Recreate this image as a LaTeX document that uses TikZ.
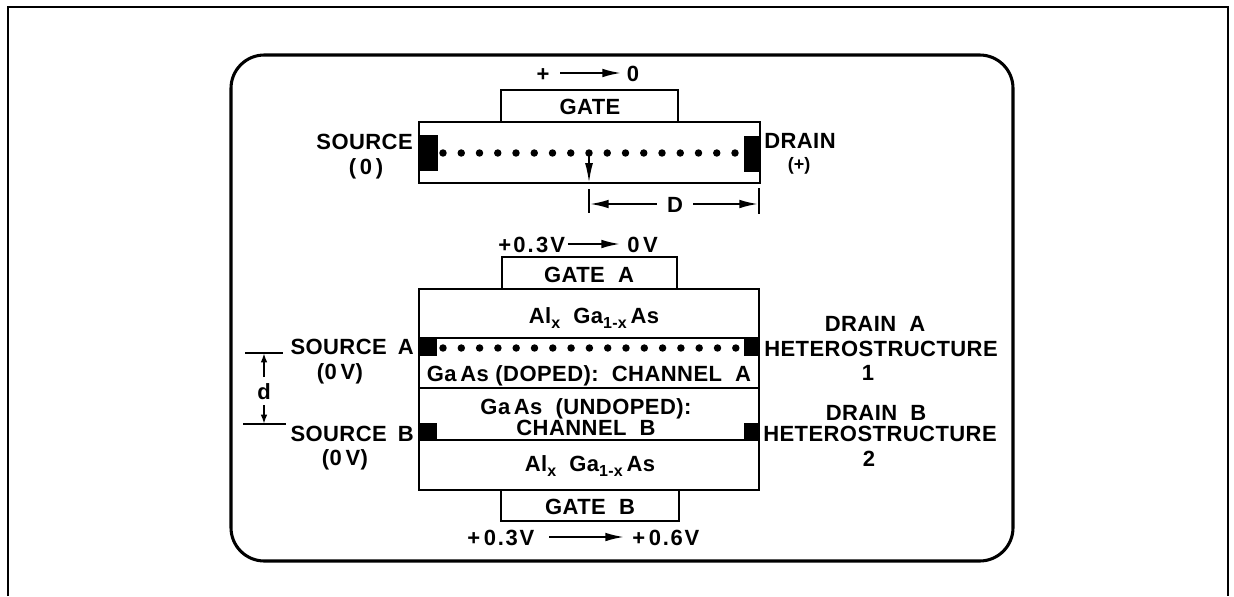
\documentclass[tikz,border=0pt]{standalone}
\usepackage{fontspec}
\setmainfont{Liberation Sans}[BoldFont={Liberation Sans Bold}]
\usetikzlibrary{arrows.meta}
\newcommand{\subtxt}[1]{\raisebox{-4.2pt}{\fontsize{12}{12}\selectfont #1}}
\newcommand{\ls}[2]{{\addfontfeature{LetterSpace=#1}#2}}
\tikzset{
  x=0.75pt,y=-0.75pt,
  frameline/.style={draw=black,line width=1.4pt},
  roundline/.style={draw=black,line width=2.3pt,rounded corners=25pt},
  rectbox/.style={draw=black,line width=1.8pt,fill=white,inner sep=0pt,outer sep=0pt},
  contact/.style={fill=black,draw=none,inner sep=0pt,outer sep=0pt},
  dotmark/.style={circle,fill=black,draw=none,minimum size=5.6pt,inner sep=0pt},
  lab/.style={font=\fontsize{16.5}{18}\selectfont\bfseries\addfontfeature{LetterSpace=2},text=black,inner sep=0pt},
  arr/.style={draw=black,line width=1.5pt,-{Latex[length=14pt,width=6.5pt]}},
  downarr/.style={draw=black,line width=1.5pt,-{Latex[length=15pt,width=6pt]}},
  smallarr/.style={draw=black,line width=1.5pt,-{Latex[length=7pt,width=5pt]}},
  thinline/.style={draw=black,line width=1.4pt},
  barline/.style={draw=black,line width=1.9pt}
}
\newcommand{\pxbox}[6]{% style,name,x1,y1,x2,y2
  \node[#1,minimum width={(#5-#3)*0.75pt},minimum height={(#6-#4)*0.75pt}] (#2) at ({(#3+#5)/2},{(#4+#6)/2}) {};}
\newcommand{\lab}[5][base]{% anchor,name,x,ycentre,text
  \node[lab,anchor=#1] (#2) at (#3,{#4+8}) {#5};}
\begin{document}
\begin{tikzpicture}
\useasboundingbox (0,0) rectangle (1234,596);
\fill[white] (0,0) rectangle (1234,596);
% outer frame
\coordinate (fa) at (8,596); \coordinate (fb) at (8,7);
\coordinate (fc) at (1228,7); \coordinate (fd) at (1228,596);
\draw[frameline] (fa) -- (fb) -- (fc) -- (fd);
% rounded panel
\coordinate (ra) at (231,55); \coordinate (rb) at (1013,561);
\draw[roundline] (ra) rectangle (rb);
% top device
\pxbox{rectbox}{gate}{501}{90}{678}{122}
\pxbox{rectbox}{main}{419}{122}{760}{183}
\pxbox{contact}{srccontact}{419}{135}{438}{171}
\pxbox{contact}{draincontact}{744}{136}{760}{172}
\foreach \i in {0,...,16} {\node[dotmark] (t\i) at ({443+\i*18.25},153) {};}
\coordinate (mainb) at (t8 |- main.south);
\draw[downarr] (t8.center) -- (mainb);
\lab{plusa}{543}{73}{+}
\lab{zeroa}{633}{73}{0}
\coordinate (aa) at (560,73); \coordinate (ab) at (621,73);
\draw[arr] (aa) -- (ab);
\lab{gatelab}{590}{106}{GATE}
\lab[base east]{srclab}{413}{141}{SOURCE}
\lab{srcv}{366}{166}{(\,0\,)}
\lab[base west]{drainlab}{764}{140}{DRAIN}
\node[lab,anchor=base,font=\fontsize{13.5}{14}\selectfont\bfseries] (drainv) at (799,170) {(+)};
% D dimension
\coordinate (d1a) at (589,189); \coordinate (d1b) at (589,213);
\coordinate (d2a) at (759,188); \coordinate (d2b) at (759,214);
\draw[thinline] (d1a) -- (d1b);
\draw[thinline] (d2a) -- (d2b);
\lab{dlab}{675}{204}{D}
\coordinate (dl) at (590,204); \coordinate (dr) at (758,204);
\draw[arr] (dlab.west |- dl) ++(-10,0) -- (dl);
\draw[arr] (dlab.east |- dr) ++(10,0) -- (dr);
% lower device labels
\lab[base west]{vala}{498}{244}{\ls{10}{+0.3V}}
\lab[base west]{valb}{627}{244}{0\,V}
\coordinate (vaa) at (568,244); \coordinate (vab) at (620,244);
\draw[arr] (vaa) -- (vab);
\pxbox{rectbox}{gatea}{502}{257}{677}{289}
\lab{gatealab}{589}{274}{GATE\ \ A}
\pxbox{rectbox}{gateb}{501}{490}{679}{521}
\lab{gateblab}{590}{506}{GATE\ \ B}
\pxbox{rectbox}{layera}{419}{289}{759}{338}
\pxbox{rectbox}{layerb}{419}{338}{759}{388}
\pxbox{rectbox}{layerc}{419}{388}{759}{440}
\pxbox{rectbox}{layerd}{419}{440}{759}{490}
\pxbox{contact}{ca}{419}{337}{437}{356}
\pxbox{contact}{cb}{419}{423}{437}{441}
\pxbox{contact}{cc}{744}{337}{760}{356}
\pxbox{contact}{cd}{744}{423}{760}{441}
\foreach \i in {0,...,16} {\node[dotmark] (b\i) at ({443+\i*18.3},348) {};}
\lab{ala}{594}{315}{Al\subtxt{x}\ \ Ga\subtxt{1-x}\,As}
\lab{alb}{590}{463}{Al\subtxt{x}\ \ Ga\subtxt{1-x}\,As}
\lab{dopedlab}{589}{373}{Ga\,As\ (DOPED):\ \ CHANNEL\ \ A}
\lab{undopedlab}{586}{406}{Ga\,As\ \ (UNDOPED):}
\lab{chblab}{586}{427}{CHANNEL\ \ B}
\lab[base west]{vc}{467}{537}{\ls{8}{+\,0.3V}}
\lab[base west]{vd}{632}{537}{\ls{8}{+\,0.6V}}
\coordinate (vca) at (549,537); \coordinate (vcb) at (624,537);
\draw[arr] (vca) -- (vcb);
\lab[base east]{srca}{414}{346}{SOURCE\,\,\,A}
\lab{srcav}{340}{371}{(0\,V)}
\lab[base east]{srcb}{414}{433}{SOURCE\,\,\,B}
\lab{srcbv}{345}{457}{(0\,V)}
\lab{dra}{875}{323}{DRAIN\ \ A}
\lab{hta}{881}{348}{HETEROSTRUCTURE}
\lab{ona}{868}{372}{1}
\lab{drb}{876}{412}{DRAIN\ \ B}
\lab{htb}{880}{433}{HETEROSTRUCTURE}
\lab{twb}{869}{458}{2}
% d dimension
\coordinate (e1) at (245,353); \coordinate (e2) at (283,353);
\coordinate (e3) at (243,424); \coordinate (e4) at (286,424);
\draw[barline] (e1) -- (e2);
\draw[barline] (e3) -- (e4);
\lab{dsmall}{264}{391}{d}
\coordinate (ea) at (264,353); \coordinate (eb) at (264,424);
\coordinate (es) at (264,377); \coordinate (et) at (264,405);
\draw[smallarr] (es) -- (ea);
\draw[smallarr] (et) -- (eb);
\end{tikzpicture}
\end{document}
